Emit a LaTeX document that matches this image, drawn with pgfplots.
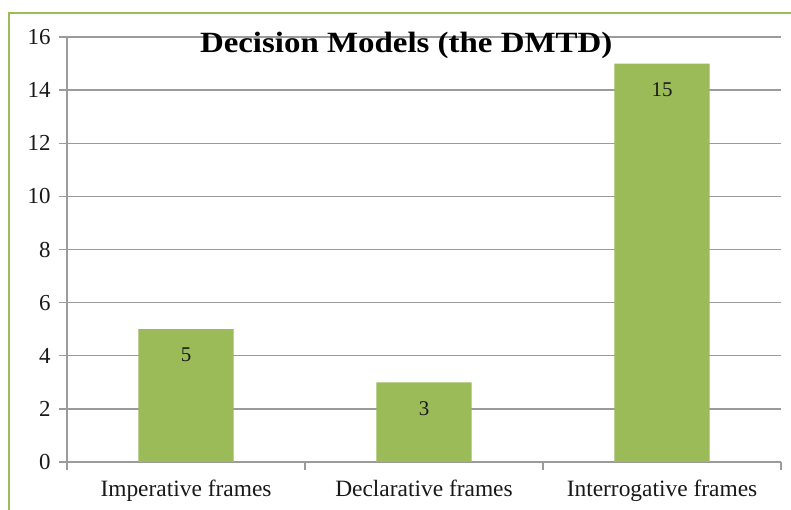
\documentclass[border=0pt]{standalone}
\usepackage{fontspec}
\setmainfont{Liberation Serif}
\usepackage{graphicx}
\usepackage{pgfplots}
\pgfplotsset{compat=1.18}
\definecolor{barg}{HTML}{9BBB59}
\definecolor{gridg}{RGB}{155,155,155}
\definecolor{txt}{RGB}{25,25,25}
\begin{document}
\begin{tikzpicture}
\useasboundingbox (0,0) rectangle (791bp,510bp);
\fill[white] (0,0) rectangle (791bp,510bp);
\draw[barg, line width=2bp] (9bp,0) -- (9bp,497bp) -- (791bp,497bp);
\begin{axis}[
 at={(67bp,48bp)}, anchor=south west,
 scale only axis, width=714bp, height=425bp,
 ybar, bar width=0.4,
 xmin=-0.5, xmax=2.5, ymin=0, ymax=16,
 ytick={0,2,...,16},
 xtick={-0.5,0.5,1.5,2.5}, xticklabels={},
 extra x ticks={0,1,2},
 extra x tick labels={Imperative frames, Declarative frames, Interrogative frames},
 extra x tick style={major tick length=0pt, tick label style={yshift=-14bp, font=\fontsize{23.5}{26}\selectfont}},
 axis x line=bottom, axis y line=left,
 axis line style={-, draw=gridg, line width=1.3bp},
 ymajorgrids, grid style={draw=gridg, line width=1.3bp},
 tick align=outside, major tick length=8bp,
 tick style={draw=gridg, line width=1.3bp},
 /pgf/number format/assume math mode=true,
 tick label style={font=\fontsize{23}{26}\selectfont, text=txt},
 yticklabel style={xshift=-5bp},
 title={\scalebox{1.12}[1]{\bfseries\fontsize{29.5}{32}\selectfont Decision Models (the DMTD)}},
 title style={at={(0.475,1)}, anchor=north, inner sep=0pt, yshift=-1bp, text=black},
 nodes near coords,
 nodes near coords style={font=\fontsize{21}{24}\selectfont, text=txt, anchor=center, yshift=-26bp},
]
\addplot[fill=barg, draw=none] coordinates {(0,5) (1,3) (2,15)};
\end{axis}
\end{tikzpicture}
\end{document}
